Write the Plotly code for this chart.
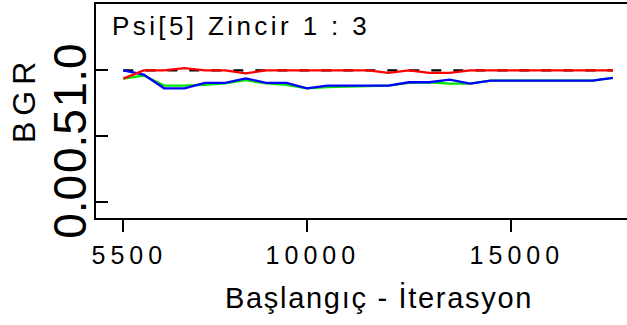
import plotly.graph_objects as go

# ---- data ----
iterations = [5500, 6000, 6500, 7000, 7500, 8000, 8500, 9000, 9500, 10000,
              10500, 11000, 11500, 12000, 12500, 13000, 13500, 14000, 14500,
              15000, 15500, 16000, 16500, 17000, 17500]
bgr_red = [0.937, 1.0, 1.0, 1.017, 1.0, 1.0, 0.977, 1.0, 1.0, 1.0,
           1.0, 1.0, 1.0, 0.98, 1.0, 0.98, 0.98, 1.0, 1.0,
           1.0, 1.0, 1.0, 1.0, 1.0, 1.0]
pooled_green = [0.937, 0.96, 0.884, 0.884, 0.89, 0.90, 0.925, 0.90, 0.89, 0.863,
                0.872, 0.876, 0.88, 0.884, 0.905, 0.909, 0.899, 0.899, 0.922,
                0.922, 0.922, 0.922, 0.922, 0.922, 0.942]
within_blue = [1.0, 0.967, 0.863, 0.863, 0.904, 0.904, 0.939, 0.904, 0.904, 0.863,
               0.884, 0.884, 0.884, 0.884, 0.909, 0.909, 0.929, 0.899, 0.922,
               0.922, 0.922, 0.922, 0.922, 0.922, 0.942]
reference_level = 1.0

x_tick_vals = [5500, 10000, 15000]
x_tick_text = ["5500", "10000", "15000"]
y_tick_vals = [0.0, 0.5, 1.0]
y_tick_text = ["0.0", "0.5", "1.0"]

title_text = "Psi[5] Zincir 1 : 3"
x_title = "Başlangıç - İterasyon"
y_title = "BGR"

FONT = "Liberation Sans, Arial, sans-serif"

fig = go.Figure()
fig.add_trace(go.Scatter(
    x=[iterations[0], iterations[-1]], y=[reference_level, reference_level],
    mode="lines", line=dict(color="black", width=2.2, dash="10px,12px"),
    hoverinfo="skip", showlegend=False))
fig.add_trace(go.Scatter(x=iterations, y=pooled_green, mode="lines",
                         line=dict(color="#00e600", width=2.3), showlegend=False))
fig.add_trace(go.Scatter(x=iterations, y=within_blue, mode="lines",
                         line=dict(color="#0000ff", width=2.3), showlegend=False))
fig.add_trace(go.Scatter(x=iterations, y=bgr_red, mode="lines",
                         line=dict(color="#ff0000", width=2.3), showlegend=False))

# chart title inside the plot area
fig.add_annotation(text=title_text, xref="paper", yref="paper",
                   x=0.026, y=0.898, xanchor="left", yanchor="middle", align="left",
                   showarrow=False, font=dict(family=FONT, size=26, color="black"))
# x axis title
fig.add_annotation(text=x_title, xref="paper", yref="paper",
                   x=0.240, y=-0.374, xanchor="left", yanchor="middle", align="left",
                   showarrow=False, font=dict(family=FONT, size=29, color="black"))
# y axis title
fig.add_annotation(text=y_title, xref="paper", yref="paper", textangle=-90,
                   x=-0.1356, y=0.556, xanchor="center", yanchor="middle",
                   showarrow=False, font=dict(family=FONT, size=32, color="black"))

fig.update_layout(
    width=627, height=325,
    margin=dict(l=96, r=0, t=4, b=107, pad=0),
    paper_bgcolor="white", plot_bgcolor="white",
    font=dict(family=FONT, color="black"),
    showlegend=False,
)
fig.update_xaxes(
    range=[4831, 17846], showgrid=False, zeroline=False,
    showline=True, linecolor="black", linewidth=1.7, mirror=True,
    ticks="outside", ticklen=12, tickwidth=2, tickcolor="black",
    tickvals=x_tick_vals, ticktext=x_tick_text,
    ticklabelstandoff=2, ticklabelshift=6,
    tickfont=dict(family=FONT, size=25),
    automargin=False,
)
fig.update_yaxes(
    range=[-0.124, 1.5046], showgrid=False, zeroline=False,
    showline=True, linecolor="black", linewidth=1.7, mirror=False,
    ticks="inside", ticklen=12, tickwidth=2, tickcolor="black",
    tickvals=y_tick_vals, ticktext=y_tick_text, tickangle=-90,
    ticklabelstandoff=-10, ticklabelshift=12,
    tickfont=dict(family=FONT, size=46),
    automargin=False,
)

post = """
(function(){
  document.body.style.margin = '0';
  document.body.style.overflow = 'hidden';
  var gd = document.getElementById('{plot_id}');
  function f(){
    gd.querySelectorAll('.xtick text').forEach(function(t){t.style.letterSpacing='5px';});
    var ann = gd.querySelectorAll('.annotation-text');
    if (ann.length > 0) ann[0].style.letterSpacing = '3.4px';
    if (ann.length > 1) ann[1].style.letterSpacing = '1.7px';
    if (ann.length > 2) ann[2].style.letterSpacing = '6px';
  }
  f();
  if (gd.on) { gd.on('plotly_afterplot', f); }
  setTimeout(f, 0);
})();
"""
fig.write_html("out.html", post_script=post, config={"displayModeBar": False})
